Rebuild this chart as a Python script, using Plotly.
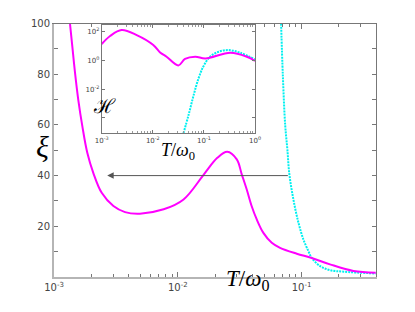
import numpy as np
import plotly.graph_objects as go

# ---------------- data ----------------
# main panel: correlation length xi vs T/omega0
main_T_magenta = [0.001346, 0.001406, 0.001479, 0.00157, 0.001694, 0.001858, 0.00208,
                  0.00243, 0.00302, 0.00375, 0.00495, 0.00769, 0.01114, 0.01622,
                  0.02089, 0.02512, 0.0300, 0.0329, 0.0361, 0.0396, 0.0435, 0.0492,
                  0.0575, 0.0671, 0.0916, 0.1211, 0.170, 0.263, 0.398]
main_xi_magenta = [100, 91, 80.5, 70, 59.5, 49, 41,
                   33.2, 28, 25.6, 25.0, 26.7, 30.6, 40.4,
                   47.0, 49.4, 46.4, 40.5, 34.5, 27.9, 22.7, 17.4,
                   13.5, 11.5, 9.2, 7.5, 5.0, 2.4, 1.7]

main_T_cyan = [0.0684, 0.0706, 0.0738, 0.0769, 0.0798, 0.0860, 0.0945, 0.1036,
               0.1137, 0.1211, 0.1413, 0.170, 0.219, 0.398]
main_xi_cyan = [100, 80, 60, 50.3, 40.5, 30.6, 21.4, 14.8,
                10.2, 7.5, 4.3, 2.7, 2.1, 1.4]

# inset: H vs T/omega0 (log-log)
inset_T_magenta = [0.001, 0.00146, 0.00245, 0.00484, 0.01023, 0.0139, 0.0186,
                   0.0316, 0.0427, 0.0676, 0.107, 0.331, 0.692, 1.0]
inset_H_magenta = [13.8, 50.0, 132, 58.9, 12.0, 3.63, 1.82,
                   0.447, 1.26, 1.82, 1.38, 3.47, 1.82, 0.93]

inset_T_cyan = [0.0398, 0.0501, 0.0631, 0.0785, 0.0977, 0.132, 0.195, 0.302, 0.513, 1.0]
inset_H_cyan = [8.3e-6, 1.58e-4, 3.89e-3, 0.0562, 0.380, 1.82, 4.07, 5.25, 3.47, 1.17]

# arrow (from the cyan curve back to low T at xi = 40)
arrow_T_start = 0.0798
arrow_T_end = 0.00269
arrow_xi = 40

# tick labels
main_x_ticks = [0.001, 0.01, 0.1]
main_x_ticktext = ["10<sup>-3</sup>", "10<sup>-2</sup>", "10<sup>-1</sup>"]
main_y_ticks = [20, 40, 60, 80, 100]
main_y_minor = [10, 30, 50, 70, 90]
inset_x_ticks = [0.001, 0.01, 0.1, 1.0]
inset_x_ticktext = ["10<sup>-3</sup>", "10<sup>-2</sup>", "10<sup>-1</sup>", "10<sup>0</sup>"]
inset_y_ticks = [100, 1, 0.01, 1e-4]
inset_y_ticktext = ["10<sup>2</sup>", "10<sup>0</sup>", "10<sup>-2</sup>", ""]

# ---------------- figure ----------------
W, H = 415, 312
MAG = "#ff00ff"
CYA = "#00f0f0"
TICKFONT = dict(family="DejaVu Sans", size=10, color="#444444")
SMALLFONT = dict(family="DejaVu Sans", size=7, color="#444444")
SERIF = "Liberation Serif"
SMOOTH = 1.0

minor_main = [m * d for d in (1e-3, 1e-2) for m in range(2, 10)] + [0.2, 0.3, 0.4]
minor_inset = [m * d for d in (1e-3, 1e-2, 1e-1) for m in range(2, 10)]

fig = go.Figure()

fig.add_trace(go.Scatter(x=main_T_cyan, y=main_xi_cyan, mode="lines",
                         line=dict(color=CYA, width=2, dash="2px,1px", shape="spline", smoothing=SMOOTH),
                         xaxis="x", yaxis="y", showlegend=False, hoverinfo="skip"))
fig.add_trace(go.Scatter(x=main_T_magenta, y=main_xi_magenta, mode="lines",
                         line=dict(color=MAG, width=2, shape="spline", smoothing=SMOOTH),
                         xaxis="x", yaxis="y", showlegend=False, hoverinfo="skip"))

fig.add_trace(go.Scatter(x=inset_T_cyan, y=inset_H_cyan, mode="lines",
                         line=dict(color=CYA, width=2, dash="2px,1px", shape="spline", smoothing=SMOOTH),
                         xaxis="x2", yaxis="y2", showlegend=False, hoverinfo="skip"))
fig.add_trace(go.Scatter(x=inset_T_magenta, y=inset_H_magenta, mode="lines",
                         line=dict(color=MAG, width=2, shape="spline", smoothing=SMOOTH),
                         xaxis="x2", yaxis="y2", showlegend=False, hoverinfo="skip"))

# dummy trace to materialise the top/right frame axes
fig.add_trace(go.Scatter(x=[None], y=[None], xaxis="x3", yaxis="y3",
                         showlegend=False, hoverinfo="skip"))

main_xdom = [54 / W, 376 / W]
main_ydom = [1 - 277 / H, 1 - 23.5 / H]
inset_xdom = [101.7 / W, 255 / W]
inset_ydom = [1 - 133.3 / H, 1 - 25 / H]
xr = [-3, np.log10(0.4)]

fig.update_layout(
    template="none",
    width=W, height=H,
    margin=dict(l=0, r=0, t=0, b=0, autoexpand=False),
    paper_bgcolor="white", plot_bgcolor="white",
    xaxis=dict(type="log", range=xr, domain=main_xdom, anchor="y", automargin=False,
               showgrid=False, zeroline=False,
               showline=True, linecolor="#b5b5b5", linewidth=2,
               ticks="inside", ticklen=5, tickcolor="#777777",
               tickvals=main_x_ticks, ticktext=main_x_ticktext, tickfont=TICKFONT,
               minor=dict(ticks="inside", ticklen=3, tickcolor="#777777", tickvals=minor_main,
                          showgrid=False)),
    yaxis=dict(range=[0, 100], domain=main_ydom, anchor="x", automargin=False,
               showgrid=False, zeroline=False,
               showline=True, linecolor="#b5b5b5", linewidth=2,
               ticks="inside", ticklen=4, tickcolor="#777777",
               tickvals=main_y_ticks, tickfont=TICKFONT,
               minor=dict(ticks="inside", ticklen=4, tickcolor="#777777", tickvals=main_y_minor,
                          showgrid=False)),
    xaxis3=dict(type="log", range=xr, domain=main_xdom, anchor="y3", overlaying="x", side="top",
                automargin=False,
                showgrid=False, zeroline=False, showline=True, linecolor="#777777", linewidth=1,
                ticks="inside", ticklen=5, tickcolor="#777777", tickvals=main_x_ticks,
                showticklabels=False,
                minor=dict(ticks="inside", ticklen=3, tickcolor="#777777", tickvals=minor_main,
                           showgrid=False)),
    yaxis3=dict(range=[0, 100], domain=main_ydom, anchor="x3", overlaying="y", side="right",
                automargin=False,
                showgrid=False, zeroline=False, showline=True, linecolor="#777777", linewidth=1,
                ticks="inside", ticklen=4, tickcolor="#777777",
                tickvals=main_y_ticks + main_y_minor, showticklabels=False),
    xaxis2=dict(type="log", range=[-3, 0], domain=inset_xdom, anchor="y2", automargin=False,
                showgrid=False, zeroline=False, showline=True, mirror="ticks",
                linecolor="#777777", linewidth=1,
                ticks="inside", ticklen=3, tickcolor="#777777",
                tickvals=inset_x_ticks, ticktext=inset_x_ticktext, tickfont=SMALLFONT,
                minor=dict(ticks="inside", ticklen=2, tickcolor="#999999", tickvals=minor_inset,
                           showgrid=False)),
    yaxis2=dict(type="log", range=[-5.08, 2.47], domain=inset_ydom, anchor="x2", automargin=False,
                showgrid=False, zeroline=False, showline=True, mirror="ticks",
                linecolor="#777777", linewidth=1,
                ticks="inside", ticklen=3, tickcolor="#777777",
                tickvals=inset_y_ticks, ticktext=inset_y_ticktext, tickfont=SMALLFONT),
)

annotations = [
    # arrow
    dict(x=np.log10(arrow_T_end), y=arrow_xi, ax=np.log10(arrow_T_start), ay=arrow_xi,
         xref="x", yref="y", axref="x", ayref="y", text="", showarrow=True,
         arrowhead=2, arrowsize=1.3, arrowwidth=1, arrowcolor="#555555"),
    # axis labels
    dict(x=34 / W, y=1 - 146 / H, xref="paper", yref="paper", showarrow=False,
         text="<i>ξ</i>", font=dict(family=SERIF, size=30, color="black")),
    dict(x=247 / W, y=1 - 296 / H, xref="paper", yref="paper", showarrow=False,
         text="<i>T</i>/<i>ω</i><sub>0</sub>", font=dict(family=SERIF, size=23, color="black")),
    dict(x=178 / W, y=1 - 151 / H, xref="paper", yref="paper", showarrow=False,
         text="<i>T</i>/<i>ω</i><sub>0</sub>", font=dict(family=SERIF, size=18, color="black")),
    dict(x=91 / W, y=1 - 106 / H, xref="paper", yref="paper", showarrow=False,
         text="ℋ", font=dict(family="DejaVu Serif", size=20, color="black")),
]
fig.update_layout(annotations=annotations)

fig.write_html("out.html", config={"displayModeBar": False},
               post_script="document.body.style.margin='0';document.body.style.padding='0';")
